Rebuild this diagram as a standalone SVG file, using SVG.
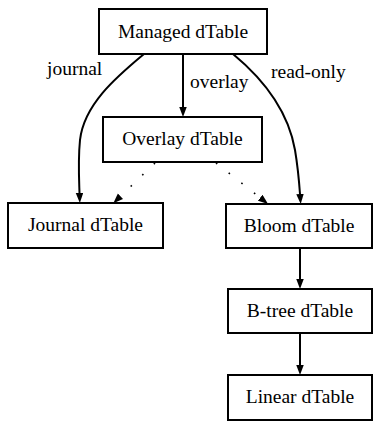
<svg xmlns="http://www.w3.org/2000/svg" width="373" height="422" viewBox="0 0 373 422">
<style>
.node rect{fill:#fff;stroke:#000;stroke-width:2}
text{font-family:"Liberation Serif","Times New Roman",serif;font-size:19.5px;fill:#000}
.node text{text-anchor:middle}
.edge{fill:none;stroke:#000;stroke-width:2}
.dot{fill:none;stroke:#000;stroke-width:1.6;stroke-dasharray:1.6,14.5}
</style>
<defs>
<marker id="ah" markerUnits="userSpaceOnUse" markerWidth="11" markerHeight="8" refX="0" refY="3.75" orient="auto">
<path d="M0,0 L10,3.75 L0,7.5 z" fill="#000"/>
</marker>
</defs>
<rect width="373" height="422" fill="#fff"/>
<g id="connectors">
<path class="edge" d="M144,54 C115,78 84,105 80,140 C78,160 79,178 79.5,193" marker-end="url(#ah)"/>
<path class="edge" d="M183,54 L183,107" marker-end="url(#ah)"/>
<path class="edge" d="M233,54 C262,78 288,110 295,150 C298,168 299,180 300,194" marker-end="url(#ah)"/>
<path class="dot" d="M155,163 L120.5,196.3" marker-end="url(#ah)"/>
<path class="dot" d="M216,163 L260.2,197.7" marker-end="url(#ah)"/>
<path class="edge" d="M300,248 L300,279" marker-end="url(#ah)"/>
<path class="edge" d="M300,333 L300,365" marker-end="url(#ah)"/>
<text x="47" y="75">journal</text>
<text x="190" y="88">overlay</text>
<text x="271" y="78">read-only</text>
</g>
<g id="managed" class="node"><rect x="99" y="9" width="168" height="45"/><text x="183" y="37.5">Managed dTable</text></g>
<g id="overlay" class="node"><rect x="103" y="117" width="159" height="45"/><text x="182.5" y="145">Overlay dTable</text></g>
<g id="journal" class="node"><rect x="8" y="203" width="155" height="45"/><text x="85.5" y="231">Journal dTable</text></g>
<g id="bloom" class="node"><rect x="226" y="204" width="146" height="44"/><text x="299" y="231.5">Bloom dTable</text></g>
<g id="btree" class="node"><rect x="228" y="289" width="144" height="44"/><text x="300" y="317">B-tree dTable</text></g>
<g id="linear" class="node"><rect x="228" y="375" width="144" height="45"/><text x="300" y="403">Linear dTable</text></g>
</svg>
